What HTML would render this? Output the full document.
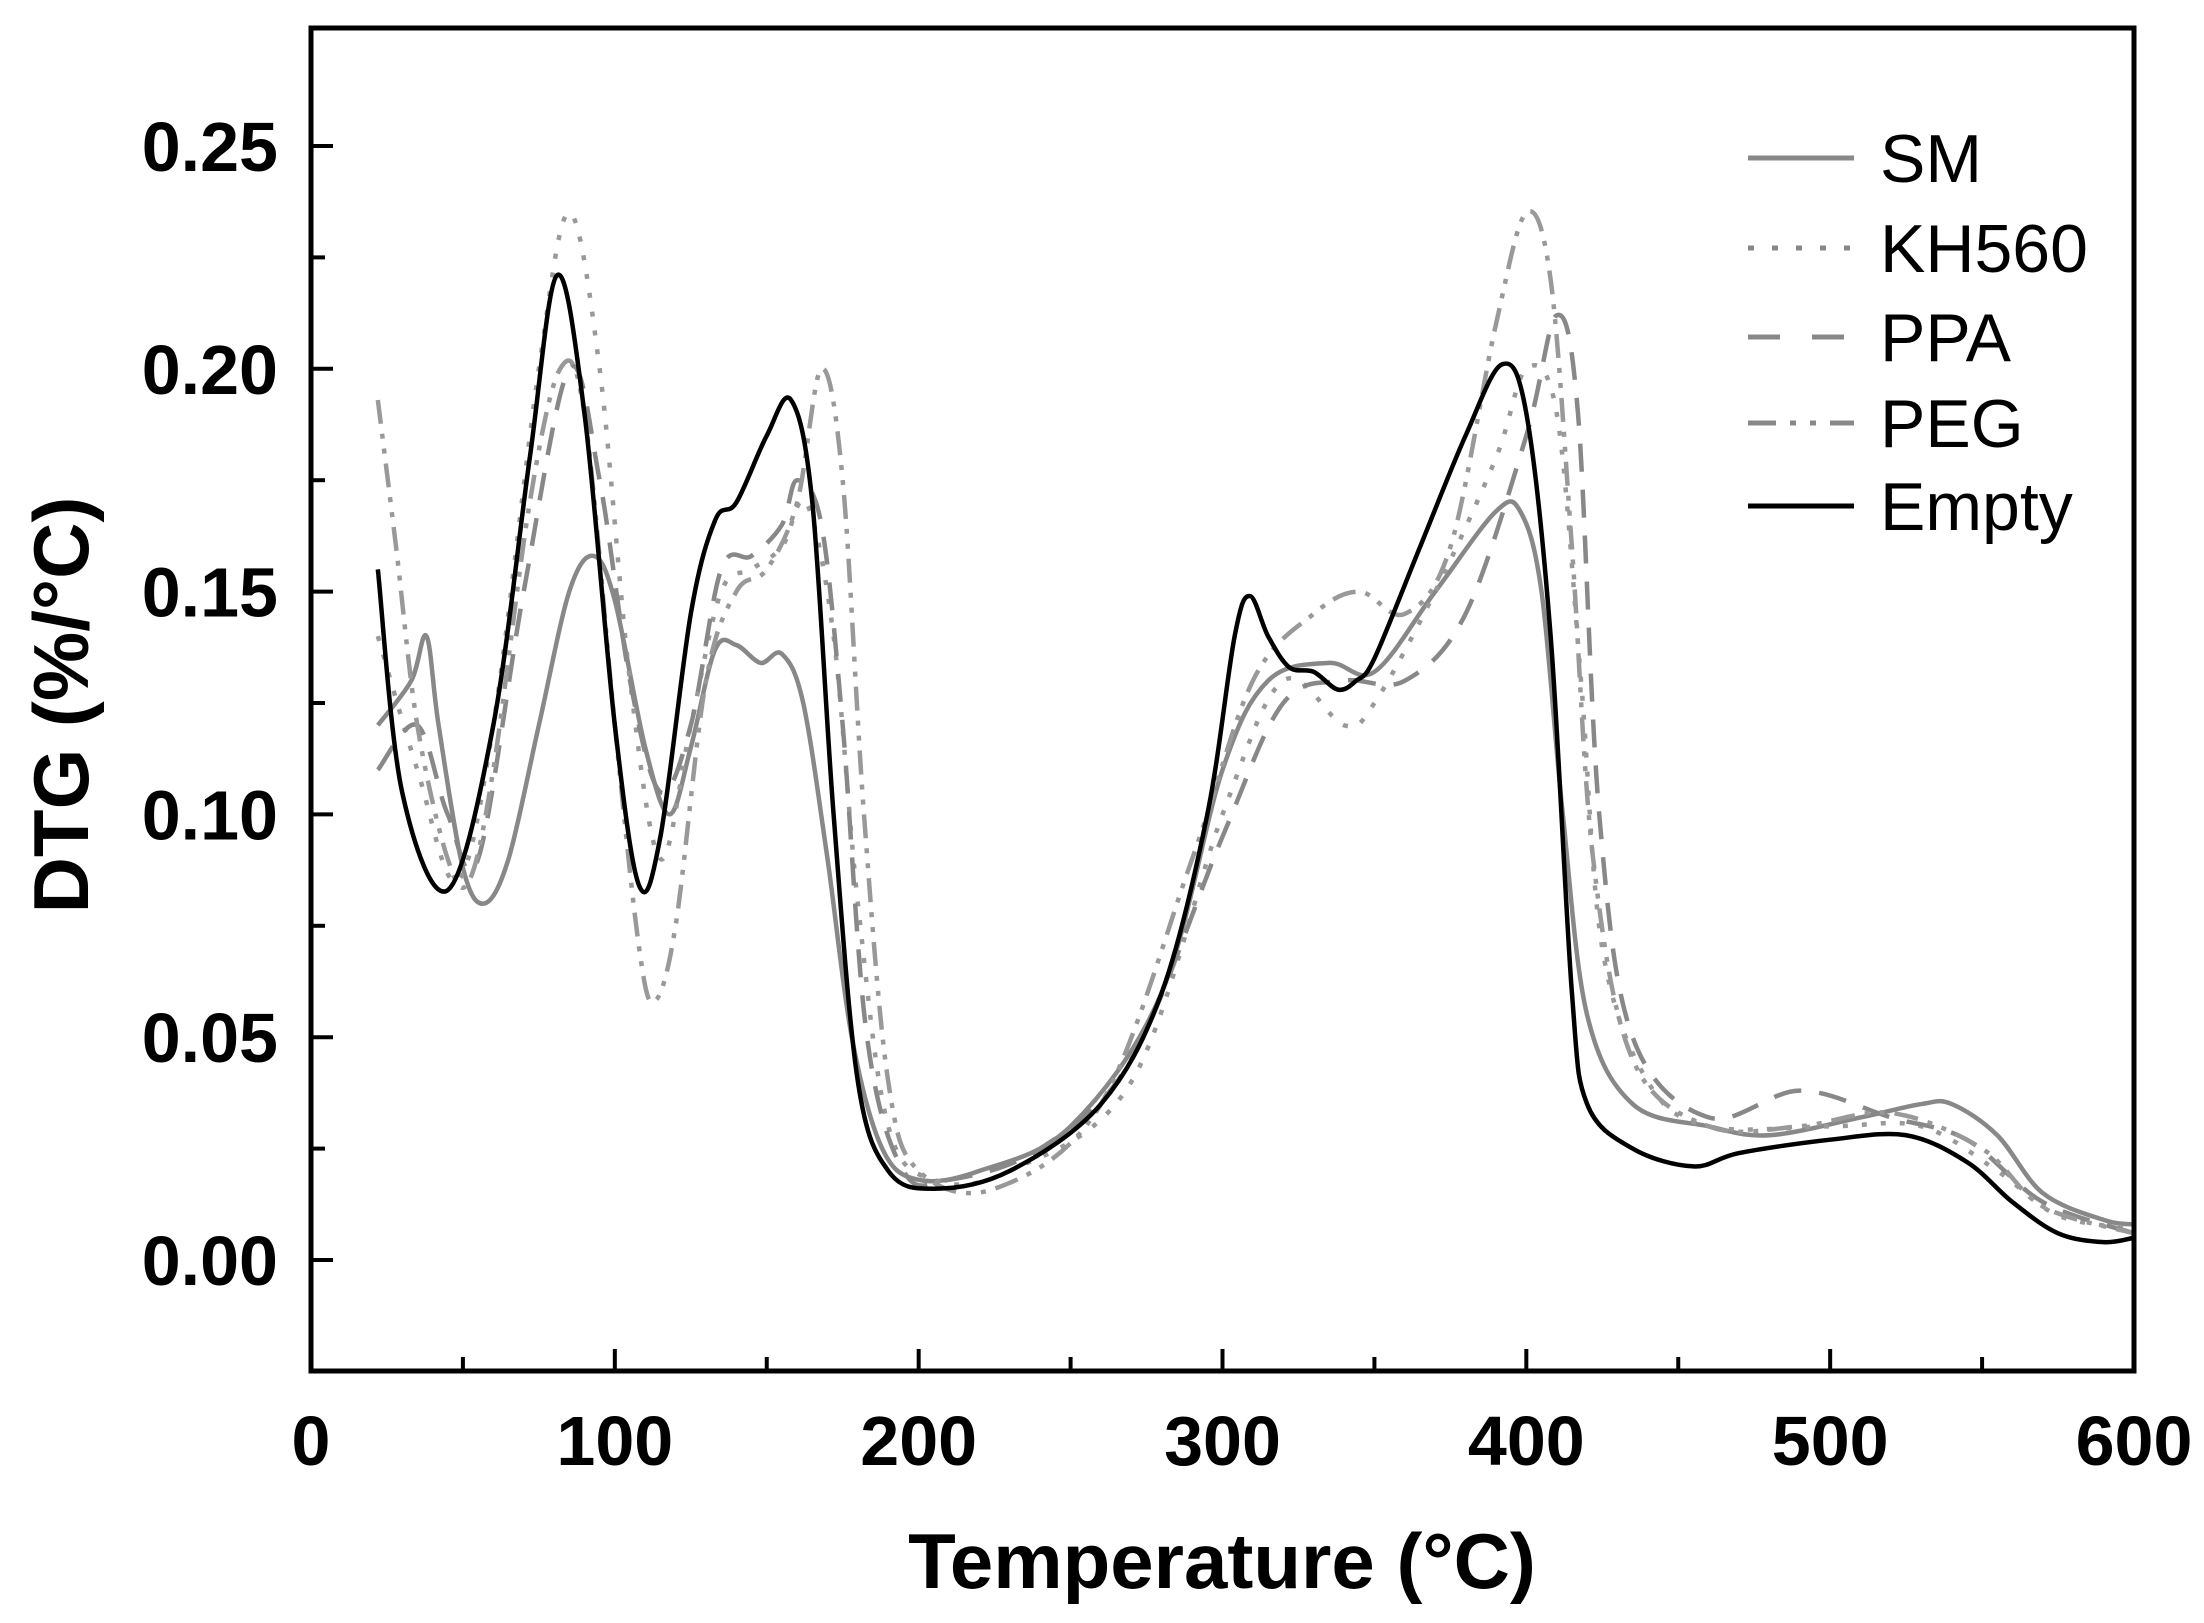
<!DOCTYPE html>
<html><head><meta charset="utf-8"><style>
html,body{margin:0;padding:0;background:#fff;}
svg{display:block;}
text{font-family:"Liberation Sans",Arial,sans-serif;}
</style></head><body>
<svg id="s" width="2204" height="1623" viewBox="0 0 2204 1623" xmlns="http://www.w3.org/2000/svg">
<rect width="2204" height="1623" fill="#fff"/>
<g id="series" fill="none" stroke-linejoin="round" stroke-linecap="butt"></g>
<rect x="311" y="28" width="1823" height="1343" fill="none" stroke="#000" stroke-width="5"/>
<g id="ticks" stroke="#000" stroke-width="4"></g>
<g font-weight="bold" font-size="70" fill="#000" id="labels"></g>
<text x="0" y="0" font-size="78" font-weight="bold" text-anchor="middle" transform="translate(88,705) rotate(-90)">DTG (%/°C)</text>
<text x="1222" y="1588" font-size="78" font-weight="bold" text-anchor="middle">Temperature (°C)</text>
<g font-size="68" fill="#000">
<line x1="1748" y1="158" x2="1854" y2="158" stroke="#888" stroke-width="5"/>
<text x="1880" y="182">SM</text>
<line x1="1748" y1="248" x2="1854" y2="248" stroke="#888" stroke-width="5" stroke-dasharray="6,18"/>
<text x="1880" y="272">KH560</text>
<line x1="1748" y1="337" x2="1854" y2="337" stroke="#888" stroke-width="5" stroke-dasharray="32,32"/>
<text x="1880" y="361">PPA</text>
<line x1="1748" y1="423" x2="1854" y2="423" stroke="#888" stroke-width="5" stroke-dasharray="28,14,6,14,6,14"/>
<text x="1880" y="447">PEG</text>
<line x1="1748" y1="506" x2="1854" y2="506" stroke="#000" stroke-width="5"/>
<text x="1880" y="530">Empty</text>
</g>
</svg>
<script>
var X=function(t){return 311+t*1823/600;}, Y=function(v){return 1260-v*4456;};
var NS="http://www.w3.org/2000/svg";
function el(p,n,a){var e=document.createElementNS(NS,n);for(var k in a)e.setAttribute(k,a[k]);p.appendChild(e);return e;}
var tk=document.getElementById('ticks'), lb=document.getElementById('labels');
for(var t=0;t<=600;t+=50){var x=X(t),L=(t%100==0)?22:14;el(tk,'line',{x1:x,y1:1371,x2:x,y2:1371-L});
 if(t%100==0){var tx=el(lb,'text',{x:x,y:1465,'text-anchor':'middle'});tx.textContent=t;}}
for(var i=-1;i<=10;i++){var v=i*0.025,y=Y(v);if(y<30||y>1369)continue;var L=(i%2==0)?22:14;el(tk,'line',{x1:311,y1:y,x2:311+L,y2:y});
 if(i%2==0&&i>=0){var tx=el(lb,'text',{x:278,y:y+25,'text-anchor':'end'});tx.textContent=v.toFixed(2);}}
function path(d){var p=d.map(function(a){return [X(a[0]),Y(a[1])];});var s='M'+p[0][0]+','+p[0][1];
 for(var i=0;i<p.length-1;i++){var p0=p[i-1]||p[i],p1=p[i],p2=p[i+1],p3=p[i+2]||p2;
 s+=' C'+(p1[0]+(p2[0]-p0[0])/6)+','+(p1[1]+(p2[1]-p0[1])/6)+' '+(p2[0]-(p3[0]-p1[0])/6)+','+(p2[1]-(p3[1]-p1[1])/6)+' '+p2[0]+','+p2[1];}return s;}
var S=[
{c:'#888',da:'',d:[[22,0.12],[33,0.13],[38,0.14],[42,0.12],[50,0.088],[57,0.08],[65,0.09],[75,0.12],[85,0.15],[93,0.158],[100,0.148],[110,0.115],[118,0.1],[125,0.115],[133,0.137],[140,0.138],[148,0.134],[155,0.136],[162,0.125],[170,0.09],[178,0.05],[188,0.025],[200,0.018],[220,0.02],[250,0.03],[280,0.06],[300,0.11],[315,0.13],[335,0.134],[350,0.132],[370,0.15],[390,0.168],[398,0.168],[405,0.15],[412,0.1],[420,0.055],[435,0.035],[460,0.03],[480,0.028],[510,0.032],[530,0.035],[540,0.035],[555,0.028],[570,0.015],[590,0.009],[600,0.008]]},
{c:'#999',da:'5,14',d:[[22,0.14],[35,0.11],[48,0.085],[60,0.12],[75,0.2],[85,0.235],[95,0.2],[105,0.13],[115,0.09],[125,0.12],[135,0.15],[145,0.155],[155,0.16],[163,0.17],[172,0.14],[180,0.08],[190,0.03],[205,0.018],[230,0.02],[270,0.04],[300,0.1],[320,0.13],[340,0.12],[350,0.125],[370,0.15],[390,0.18],[400,0.2],[410,0.19],[418,0.13],[425,0.07],[440,0.04],[460,0.03],[500,0.03],[530,0.03],[555,0.02],[575,0.01],[600,0.007]]},
{c:'#888',da:'28,18',d:[[22,0.11],[35,0.12],[45,0.1],[55,0.09],[70,0.15],[85,0.2],[95,0.175],[105,0.13],[115,0.105],[125,0.12],[135,0.155],[145,0.158],[155,0.165],[160,0.175],[168,0.165],[175,0.12],[183,0.05],[195,0.02],[210,0.018],[240,0.025],[270,0.045],[300,0.095],[320,0.125],[340,0.13],[360,0.13],[380,0.145],[400,0.185],[410,0.212],[417,0.19],[424,0.1],[435,0.05],[460,0.032],[490,0.038],[520,0.032],[545,0.027],[570,0.013],[600,0.006]]},
{c:'#999',da:'24,10,5,10,5,10',d:[[22,0.193],[28,0.16],[35,0.12],[45,0.09],[52,0.085],[60,0.11],[72,0.17],[82,0.2],[90,0.19],[100,0.12],[108,0.07],[113,0.058],[120,0.075],[130,0.13],[140,0.15],[150,0.155],[160,0.17],[168,0.2],[175,0.175],[182,0.1],[190,0.04],[200,0.02],[225,0.016],[260,0.035],[290,0.09],[310,0.13],[330,0.145],[345,0.15],[360,0.145],[375,0.16],[390,0.21],[400,0.235],[408,0.22],[415,0.16],[422,0.09],[435,0.045],[460,0.03],[490,0.03],[520,0.033],[550,0.025],[570,0.012],[600,0.006]]},
{c:'#000',da:'',d:[[22,0.155],[30,0.105],[45,0.083],[60,0.12],[72,0.18],[81,0.221],[90,0.19],[100,0.12],[108,0.084],[115,0.095],[125,0.145],[133,0.166],[140,0.17],[150,0.185],[158,0.193],[165,0.17],[172,0.1],[180,0.04],[190,0.02],[205,0.016],[230,0.02],[260,0.035],[280,0.06],[295,0.1],[304,0.14],[309,0.149],[315,0.14],[322,0.133],[330,0.132],[338,0.128],[344,0.13],[350,0.135],[365,0.16],[380,0.185],[392,0.201],[400,0.19],[408,0.14],[415,0.06],[420,0.035],[435,0.025],[455,0.021],[470,0.024],[500,0.027],[525,0.028],[545,0.022],[560,0.013],[575,0.006],[590,0.004],[600,0.005]]}
];
var g=document.getElementById('series');
S.forEach(function(s){var a={d:path(s.d),stroke:s.c,'stroke-width':4.5};if(s.da)a['stroke-dasharray']=s.da;el(g,'path',a);});
</script>
</body></html>
